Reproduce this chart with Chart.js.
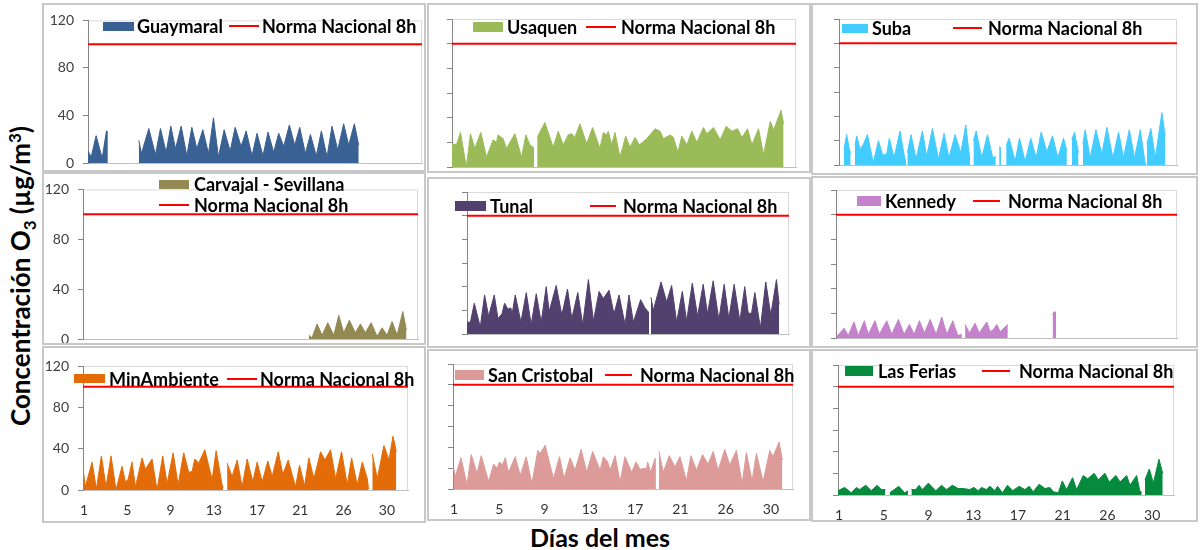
<!DOCTYPE html>
<html>
<head>
<meta charset="utf-8">
<script src="https://cdn.jsdelivr.net/npm/chart.js@4.4.0/dist/chart.umd.min.js"></script>
<style>
  body { margin: 0; background: #fff; }
  #page { position: relative; width: 1200px; height: 550px; overflow: hidden; font-family: Lato, 'Noto Sans', sans-serif; }
  #page canvas { position: absolute; }
  .box { position: absolute; border: 2px solid #c8c8c8; box-sizing: border-box; pointer-events: none; }
  .leg { position: absolute; font-weight: bold; font-size: 18px; line-height: 1; color: #000; white-space: nowrap; transform: translateY(-50%); }
  .sw, .rl { position: absolute; }
  #ytitle { position: absolute; left: 22px; top: 276px; transform: translate(-50%, -50%) rotate(-90deg); font-weight: bold; font-size: 26px; white-space: nowrap; color: #000; }
  #xtitle { position: absolute; left: 600px; top: 537px; transform: translate(-50%, -50%); font-weight: bold; font-size: 25px; white-space: nowrap; color: #000; }
</style>
</head>
<body>
<div id="page">
  <div id="ytitle">Concentración O<sub style="font-size:17px">3</sub> (µg/m<sup style="font-size:17px">3</sup>)</div>
  <div id="xtitle">Días del mes</div>
</div>
<script>
// x axis is in days of the month (hourly 8h averages), ticks every 100 hours
const dayMin = 0.9;
const dayMax = 32.2;
const xTickHours = [0, 100, 200, 300, 400, 500, 600, 700];
const xTickLabels = ['1', '5', '9', '13', '17', '21', '26', '30'];
const yMax = 120;
const normaNacional = 100;

// [day, value], null = missing data
const guaymaral = [[0.9,10],[1.2,5],[1.66,23],[2.23,4],[2.63,27],[2.76,26],[3,null],
  [5.66,19],[5.91,8],[6.6,29],[7.22,7],[7.69,29],[8.22,9],[8.66,31],[9.1,12],[9.63,31],[10.16,6],[10.63,30],[11.1,12],
  [11.66,28],[12.19,8],[12.66,38],[13.12,5],[13.66,28],[14.22,10],[14.69,30],[15.25,14],[15.72,27],[16.27,6],[16.74,25],
  [17.3,6],[17.77,26],[18.3,9],[18.77,25],[19.24,14],[19.77,32],[20.27,15],[20.74,30],[21.27,8],[21.74,24],[22.3,6],
  [22.77,27],[23.3,5],[23.77,31],[24.3,11],[24.86,33],[25.33,15],[25.86,33],[26.27,15]];
const usaquen = [[0.9,19],[1.3,18],[1.67,28],[2.21,0],[2.58,27],[2.97,15],[3.52,28],[4.04,8],[4.64,22],[4.95,20],[5.09,26],
  [5.55,23],[5.86,15],[6.62,27],[7.23,8],[7.62,26],[7.98,18],[8.28,16],[8.37,16],[8.5,null],[8.65,24],[9.35,36],[10.11,16],
  [10.56,29],[11.02,18],[11.47,26],[11.78,27],[12.08,24],[12.54,35],[13.15,19],[13.7,32],[14.36,15],[14.67,28],[14.97,26],
  [15.12,29],[15.43,18],[15.73,28],[16.19,8],[16.7,25],[17.1,16],[17.55,24],[17.95,18],[18.62,23],[19.38,31],[19.83,29],
  [20.14,23],[20.75,26],[21.05,24],[21.45,12],[21.81,25],[22.27,18],[22.72,29],[23.18,20],[23.78,32],[24.09,27],[24.69,32],
  [25.3,22],[25.85,33],[26.37,29],[26.88,31],[27.28,24],[27.79,31],[28.19,18],[28.79,31],[29.25,10],[29.86,37],[30.17,30],
  [30.84,46],[31.07,35]];
const suba = [[1.36,13],[1.61,25],[1.86,13],[1.98,10],[2.1,null],[2.38,16],[2.54,24],[2.85,13],[3.16,17],[3.53,25],[4.08,2],
  [4.55,20],[4.95,8],[5.32,9],[5.56,22],[6.0,6],[6.55,28],[7.02,4],[7.11,5],[7.17,null],[7.23,10],[7.57,25],[8.04,5],
  [8.62,28],[9.02,7],[9.55,30],[10.11,5],[10.63,26],[11.09,6],[11.65,25],[12.18,10],[12.64,33],[12.98,7],[13.04,7],
  [13.2,null],[13.35,20],[13.6,28],[14.12,6],[14.65,25],[15.14,6],[15.42,7],[15.6,null],[15.73,15],[15.9,14],[16.1,null],
  [16.38,16],[16.66,22],[17.21,3],[17.61,22],[18.14,3],[18.66,22],[19.16,6],[19.62,27],[20.15,11],[20.67,24],[21.17,6],
  [21.69,22],[22.0,12],[22.2,null],[22.46,21],[22.71,27],[23.08,10],[23.3,null],[23.48,17],[23.7,29],[24.16,6],[24.69,29],
  [25.24,9],[25.71,31],[26.26,6],[26.79,27],[27.25,6],[27.78,29],[28.27,6],[28.8,29],[29.26,1],[29.35,1],[29.38,null],
  [29.41,17],[29.78,30],[30.19,6],[30.8,43],[31.11,24]];
const carvajal = [[21.99,3],[22.3,1],[22.77,12],[23.24,3],[23.77,13],[24.33,3],[24.8,19],[25.26,5],[25.79,15],[26.35,5],
  [26.82,12],[27.28,5],[27.82,13],[28.38,2],[28.84,9],[29.31,3],[29.78,14],[30.25,3],[30.78,22],[31.12,7]];
const tunal = [[0.9,10],[1.23,10],[1.61,26],[2.19,6],[2.61,33],[3.0,15],[3.55,33],[3.91,13],[4.3,17],[4.55,26],[4.88,21],
  [5.17,22],[5.27,16],[5.59,33],[6.14,10],[6.66,35],[7.14,8],[7.63,34],[8.11,10],[8.6,40],[8.89,19],[9.57,41],[10.12,16],
  [10.67,38],[11.09,13],[11.67,35],[12.15,8],[12.7,46],[13.19,11],[13.74,36],[14.16,30],[14.71,37],[15.19,17],[15.68,33],
  [16.26,8],[16.65,33],[17.07,10],[17.78,29],[18.2,22],[18.59,18],[18.68,null],[18.78,31],[19.01,20],[19.76,44],[20.31,27],
  [20.79,41],[21.28,10],[21.83,36],[22.25,11],[22.8,43],[23.31,15],[23.86,42],[24.28,17],[24.83,45],[25.38,12],[25.9,42],
  [26.35,13],[26.87,42],[27.42,11],[27.9,40],[28.23,18],[28.55,17],[28.88,35],[29.42,5],[29.94,44],[30.43,16],[30.98,46],
  [31.24,25]];
const kennedy = [[0.96,1],[1.64,8],[2.03,2],[2.55,13],[2.95,2],[3.5,14],[3.87,3],[4.48,14],[4.88,3],[5.56,14],[6.01,3],
  [6.63,15],[7.15,3],[7.64,11],[8.07,3],[8.56,14],[9.02,4],[9.54,15],[10.09,3],[10.61,17],[11.07,3],[11.62,14],[12.08,2],
  [12.45,3],[12.6,null],[12.75,11],[13.15,4],[13.67,12],[14.04,4],[14.74,13],[15.05,5],[15.36,7],[15.66,11],[15.97,5],
  [16.67,11],[16.8,null],[20.78,19],[20.9,21],[21.11,21]];
const minAmbiente = [[0.96,16],[1.12,3],[1.77,27],[2.19,1],[2.67,33],[3.12,3],[3.6,33],[4.08,0],[4.66,23],[4.98,8],[5.24,10],
  [5.62,27],[5.95,3],[6.59,31],[6.91,20],[7.55,30],[8.03,0],[8.58,33],[9.0,6],[9.58,36],[10.06,5],[10.6,36],[11.09,17],
  [11.41,18],[11.66,30],[12.05,26],[12.63,39],[13.34,10],[13.72,38],[14.3,5],[14.4,2],[14.46,null],[14.78,26],[15.26,13],
  [15.75,29],[16.23,3],[16.71,30],[17.26,8],[17.67,27],[18.16,8],[18.7,28],[19.12,13],[19.7,37],[20.15,15],[20.66,29],
  [21.37,3],[21.75,24],[22.24,4],[22.65,31],[23.14,11],[23.78,37],[24.2,29],[24.74,39],[25.23,11],[25.8,37],[26.35,5],
  [26.77,31],[27.31,5],[27.8,27],[28.28,11],[28.4,1],[28.5,null],[28.76,35],[29.24,11],[29.88,43],[30.37,29],[30.75,52],
  [30.94,44],[31.07,37]];
const sanCristobal = [[0.96,20],[1.11,12],[1.64,30],[2.19,4],[2.58,33],[3.11,15],[3.5,32],[4.18,7],[4.64,24],[4.94,20],
  [5.19,26],[5.45,23],[5.71,30],[6.01,16],[6.63,31],[7.09,13],[7.64,31],[8.16,5],[8.71,37],[8.92,34],[9.38,42],[10.15,10],
  [10.7,31],[11.13,10],[11.68,30],[12.14,18],[12.69,38],[13.21,16],[13.76,36],[14.44,18],[14.74,31],[15.14,26],[15.36,18],
  [15.82,32],[16.28,7],[16.73,31],[17.35,16],[17.75,26],[18.11,19],[18.73,20],[18.82,26],[19.09,16],[19.49,29],[19.58,29],
  [19.7,null],[19.86,36],[20.26,16],[20.81,32],[21.33,21],[21.79,31],[22.4,8],[22.8,32],[23.32,18],[23.87,33],[24.39,24],
  [24.85,36],[25.31,18],[25.92,38],[26.38,23],[26.99,37],[27.52,5],[27.91,35],[28.43,8],[28.83,34],[29.45,7],[30.06,37],
  [30.36,31],[30.92,45],[31.22,28]];
const lasFerias = [[0.9,4],[1.52,7],[2.14,2],[2.61,7],[2.92,5],[3.48,9],[4.01,4],[4.54,9],[4.94,5],[5.31,5],[5.5,null],
  [5.72,2],[6.56,8],[7.12,2],[7.43,4],[7.6,null],[7.74,5],[8.14,5],[8.45,9],[8.76,5],[9.32,11],[10.01,4],[10.54,9],[11.0,5],
  [11.56,9],[12.09,6],[12.56,6],[13.18,5],[13.55,7],[13.96,4],[14.27,7],[14.73,5],[15.04,8],[15.51,4],[15.76,8],[16.22,2],
  [16.69,9],[17.16,4],[17.78,8],[18.31,5],[18.71,8],[19.08,3],[19.64,10],[20.17,6],[20.64,7],[20.95,3],[21.42,2],[21.79,13],
  [22.19,5],[22.75,16],[23.13,5],[23.75,18],[24.15,15],[24.77,20],[25.15,14],[25.77,20],[26.17,12],[26.79,18],[27.17,12],
  [27.79,18],[28.1,9],[28.72,18],[29.03,3],[29.19,3],[29.35,null],[29.5,14],[29.9,24],[30.28,11],[30.8,33],[31.15,20]];

// panel layout in page pixels: box = outer frame, plot = chart area (l, t, r, b)
const panels = [
  { name: 'Guaymaral', series: guaymaral, color: '#3a6193', box: [42, 3, 426, 172], plot: [88, 19, 422, 163],
    leg: { sw: [103, 22, 31, 9], name: 137, y: 26, line: [229, 259], norma: 262 } },
  { name: 'Usaquen', series: usaquen, color: '#9bbb59', box: [427, 3, 811, 173], plot: [452, 19, 796, 167],
    leg: { sw: [473, 22, 30, 10], name: 507, y: 27, line: [586, 616], norma: 621 } },
  { name: 'Suba', series: suba, color: '#43ccff', box: [811, 3, 1198, 175], plot: [839, 19, 1177, 165],
    leg: { sw: [842, 24, 26, 9], name: 872, y: 28, line: [953, 982], norma: 988 } },
  { name: 'Carvajal - Sevillana', series: carvajal, color: '#938953', box: [42, 172, 426, 345], plot: [83, 186, 418, 339],
    leg: { sw: [159, 180, 30, 9], name: 194, y: 184, line: [159, 189], norma: 194, y2: 205 } },
  { name: 'Tunal', series: tunal, color: '#52406e', box: [427, 177, 811, 348], plot: [467, 192, 789, 334],
    leg: { sw: [455, 201, 31, 10], name: 490, y: 206, line: [590, 616], norma: 623 } },
  { name: 'Kennedy', series: kennedy, color: '#c382c9', box: [811, 176, 1198, 348], plot: [836, 190, 1177, 338],
    leg: { sw: [857, 196, 24, 10], name: 885, y: 201, line: [973, 1000], norma: 1008 } },
  { name: 'MinAmbiente', series: minAmbiente, color: '#e36c09', box: [42, 346, 426, 523], plot: [83, 366, 408, 490],
    leg: { sw: [74, 374, 31, 9], name: 109, y: 379, line: [227, 257], norma: 260 } },
  { name: 'San Cristobal', series: sanCristobal, color: '#dc9a98', box: [427, 349, 811, 521], plot: [453, 364, 793, 489],
    leg: { sw: [455, 370, 29, 10], name: 488, y: 375, line: [605, 632], norma: 640 } },
  { name: 'Las Ferias', series: lasFerias, color: '#058a3e', box: [811, 349, 1198, 522], plot: [838, 365, 1174, 495],
    leg: { sw: [845, 366, 28, 10], name: 878, y: 371, line: [982, 1010], norma: 1019 } }
];

const page = document.getElementById('page');

// light frame around the plot area (top and right edges)
const plotFrame = {
  id: 'plotFrame',
  beforeDraw(chart) {
    const { ctx, chartArea: a } = chart;
    ctx.save();
    ctx.strokeStyle = '#d9d9d9';
    ctx.lineWidth = 1;
    ctx.strokeRect(a.left + 0.5, a.top + 0.5, a.right - a.left - 1, a.bottom - a.top);
    ctx.restore();
  }
};

function addDiv(cls, css, text) {
  const d = document.createElement('div');
  d.className = cls;
  Object.assign(d.style, css);
  if (text) d.textContent = text;
  page.appendChild(d);
  return d;
}

panels.forEach((p, i) => {
  const [bx, by, bx2, by2] = p.box;
  const [l, t, r, b] = p.plot;
  const leftCol = i % 3 === 0;
  const bottomRow = i >= 6;
  // room under the x axis (canvas is transparent, it may run past the frame)
  const xh = Math.max(by2 - b, 26);

  const canvas = document.createElement('canvas');
  canvas.width = bx2 - bx;
  canvas.height = (b - by) + xh;
  canvas.style.left = bx + 'px';
  canvas.style.top = by + 'px';
  page.appendChild(canvas);

  new Chart(canvas, {
    type: 'line',
    data: {
      datasets: [
        {
          data: p.series.map(d => ({ x: d[0], y: d[1] })),
          borderColor: p.color,
          backgroundColor: p.color,
          borderWidth: 1,
          fill: 'origin',
          pointRadius: 0,
          tension: 0
        },
        {
          data: [{ x: dayMin, y: normaNacional }, { x: dayMax, y: normaNacional }],
          borderColor: '#ff0000',
          borderWidth: 2,
          pointRadius: 0,
          fill: false
        }
      ]
    },
    options: {
      responsive: false,
      animation: false,
      events: [],
      layout: { padding: { top: t - by, right: bx2 - r, left: 0, bottom: 0 } },
      plugins: { legend: { display: false }, tooltip: { enabled: false } },
      scales: {
        x: {
          type: 'linear',
          min: dayMin,
          max: dayMax,
          grid: { display: false, drawTicks: false },
          border: { color: '#bfbfbf' },
          afterBuildTicks: s => { s.ticks = xTickHours.map(h => ({ value: 1 + h / 24 })); },
          afterFit: s => { s.height = xh; },
          ticks: {
            display: bottomRow,
            autoSkip: false,
            maxRotation: 0,
            padding: 12,
            color: '#333',
            font: { family: 'Lato', size: 14 },
            callback: (v, k) => xTickLabels[k]
          }
        },
        y: {
          min: 0,
          max: yMax,
          grid: { drawOnChartArea: false, drawTicks: true, tickLength: 5, color: '#868686' },
          border: { color: '#868686' },
          afterFit: s => { s.width = l - bx; },
          ticks: {
            display: leftCol,
            stepSize: leftCol ? 40 : 20,
            padding: 9,
            color: '#404040',
            font: { family: 'Lato', size: 14 }
          }
        }
      }
    },
    plugins: [plotFrame]
  });

  // panel frame
  addDiv('box', { left: bx + 'px', top: by + 'px', width: (bx2 - bx) + 'px', height: (by2 - by) + 'px' });

  // legend inside the plot
  const g = p.leg;
  addDiv('sw', { left: g.sw[0] + 'px', top: g.sw[1] + 'px', width: g.sw[2] + 'px', height: g.sw[3] + 'px', background: p.color });
  addDiv('leg', { left: g.name + 'px', top: g.y + 'px' }, p.name);
  const ly = g.y2 || g.y;
  addDiv('rl', { left: g.line[0] + 'px', top: (ly - 1) + 'px', width: (g.line[1] - g.line[0]) + 'px', height: '2px', background: '#ff0000' });
  addDiv('leg', { left: g.norma + 'px', top: ly + 'px' }, 'Norma Nacional 8h');
});
</script>
</body>
</html>
